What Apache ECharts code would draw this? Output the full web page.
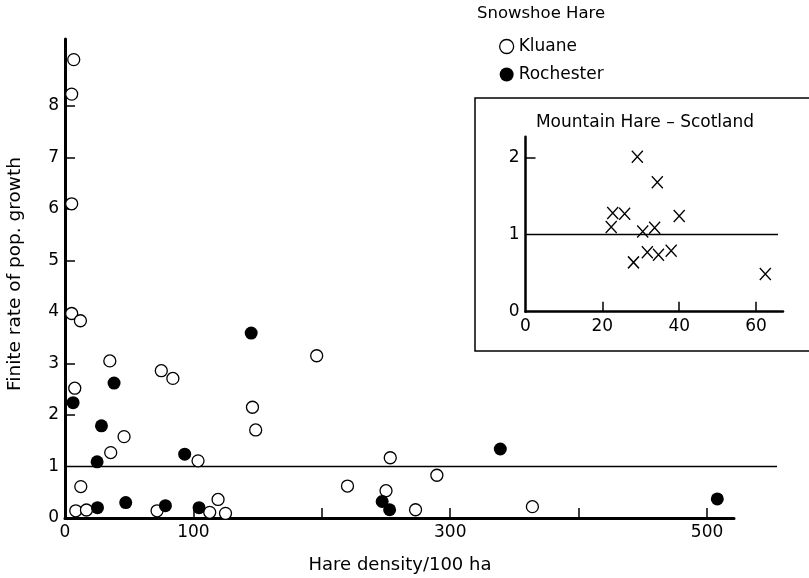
<!DOCTYPE html>
<html>
<head>
<meta charset="utf-8">
<script src="https://cdn.jsdelivr.net/npm/echarts@6/dist/echarts.min.js"></script>
<style>
html, body { margin: 0; padding: 0; background: #fff; }
#chart { width: 809px; height: 578px; }
</style>
</head>
<body>
<div id="chart"></div>
<script>
// Snowshoe hare, density (per 100 ha) vs finite rate of growth
var kluane = [
    [6.8, 8.9], [5.2, 8.23], [5.2, 6.1], [5.2, 3.97], [12, 3.83], [34.9, 3.05],
    [75, 2.86], [84, 2.71], [7.6, 2.52], [46, 1.58], [35.6, 1.27], [103.6, 1.11],
    [146, 2.15], [148.5, 1.71], [196, 3.15], [12.3, 0.61], [8.4, 0.14], [16.7, 0.155],
    [71.7, 0.14], [119.2, 0.36], [112.7, 0.11], [125, 0.09], [220, 0.62], [250, 0.53],
    [253.3, 1.17], [289.6, 0.83], [273, 0.16], [364, 0.22]
];
var rochester = [
    [145, 3.59], [38.2, 2.62], [6.3, 2.24], [28.4, 1.79], [25, 1.09], [93.2, 1.24],
    [25.3, 0.2], [47.3, 0.3], [78.2, 0.24], [104.4, 0.2], [247, 0.32], [252.8, 0.16],
    [339, 1.34], [508, 0.37]
];
// Mountain hare, Scotland (inset)
var scotland = [
    [29.1, 2.01], [34.3, 1.68], [22.7, 1.28], [25.8, 1.27], [22.3, 1.1], [40, 1.24],
    [30.5, 1.04], [33.6, 1.09], [28.1, 0.64], [31.7, 0.77], [34.6, 0.74], [37.9, 0.79],
    [62.4, 0.49]
];
var mainXLabels = [0, 100, 300, 500];
var mainXTicks = [100, 200, 300, 400, 500];
var mainYLabels = [0, 1, 2, 3, 4, 5, 6, 7, 8];
var mainYTicks = [2, 3, 4, 5, 6, 7, 8];
var insetXLabels = [0, 20, 40, 60];
var insetXTicks = [20, 40, 60];
var insetYLabels = [0, 1, 2];
var insetYTicks = [2];
// lambda = 1 reference lines (the main one runs past the end of the x axis)
var mainRefLine = [[0, 1], [554, 1]];
var insetRefLine = [[0, 1], [65.7, 1]];

var FONT = 'DejaVu Sans';
var chart = echarts.init(document.getElementById('chart'));

function makeAxis(idx, max, labels, ticks, width) {
    return {
        type: 'value', gridIndex: idx, min: 0, max: max,
        splitLine: { show: false },
        axisLine: { lineStyle: { color: '#000', width: width } },
        axisTick: { inside: true, length: 10, customValues: ticks, lineStyle: { color: '#000', width: 1.5 } },
        axisLabel: { customValues: labels, color: '#000', fontFamily: FONT, fontSize: 17, margin: 6 }
    };
}
function hiddenAxis(idx, max) {
    return { type: 'value', gridIndex: idx, min: 0, max: max, show: false, splitLine: { show: false } };
}

var option = {
    backgroundColor: '#fff',
    animation: false,
    textStyle: { fontFamily: FONT, color: '#000' },
    grid: [
        { left: 65, top: 39, right: 75, bottom: 60 },
        { left: 525.5, top: 136.7, right: 26, bottom: 266.3 },
        { left: 65, top: 39, right: 32, bottom: 60 }
    ],
    xAxis: [
        makeAxis(0, 521, mainXLabels, mainXTicks, 3),
        makeAxis(1, 67, insetXLabels, insetXTicks, 2.5),
        hiddenAxis(2, 554)
    ],
    yAxis: [
        makeAxis(0, 9.3, mainYLabels, mainYTicks, 3),
        makeAxis(1, 2.27, insetYLabels, insetYTicks, 2.5),
        hiddenAxis(2, 9.3)
    ],
    legend: {
        orient: 'vertical', left: 494, top: 33, itemGap: 11,
        itemWidth: 14, itemHeight: 14,
        textStyle: { fontFamily: FONT, fontSize: 17, color: '#000' },
        data: [
            { name: 'Kluane', icon: 'circle', itemStyle: { color: '#fff', borderColor: '#000', borderWidth: 1.3 } },
            { name: 'Rochester', icon: 'circle' }
        ]
    },
    graphic: [
        { type: 'text', left: 477, top: 5, style: { text: 'Snowshoe Hare', font: '16.5px "DejaVu Sans"', fill: '#000' } },
        { type: 'rect', shape: { x: 475, y: 98, width: 345, height: 253 }, style: { fill: 'none', stroke: '#000', lineWidth: 1.5 }, z: 1 },
        { type: 'text', x: 645, y: 123, style: { text: 'Mountain Hare \u2013 Scotland', font: '17px "DejaVu Sans"', fill: '#000', align: 'center', verticalAlign: 'middle' } },
        { type: 'text', x: 400, y: 565, style: { text: 'Hare density/100 ha', font: '18px "DejaVu Sans"', fill: '#000', align: 'center', verticalAlign: 'middle' } },
        { type: 'text', x: 15, y: 274, rotation: Math.PI / 2, style: { text: 'Finite rate of pop. growth', font: '18.5px "DejaVu Sans"', fill: '#000', align: 'center', verticalAlign: 'middle' } }
    ],
    series: [
        {
            name: 'ref1', type: 'line', xAxisIndex: 2, yAxisIndex: 2, data: mainRefLine,
            symbol: 'none', lineStyle: { color: '#000', width: 1.5 }, z: 1, silent: true
        },
        {
            name: 'Kluane', type: 'scatter', xAxisIndex: 0, yAxisIndex: 0, data: kluane,
            symbol: 'circle', symbolSize: 12, clip: false,
            itemStyle: { color: '#fff', borderColor: '#000', borderWidth: 1.3, opacity: 1 }, z: 3
        },
        {
            name: 'Rochester', type: 'scatter', xAxisIndex: 0, yAxisIndex: 0, data: rochester,
            symbol: 'circle', symbolSize: 13, clip: false,
            itemStyle: { color: '#000', opacity: 1 }, z: 4
        },
        {
            name: 'ref2', type: 'line', xAxisIndex: 1, yAxisIndex: 1, data: insetRefLine,
            symbol: 'none', clip: false, lineStyle: { color: '#000', width: 1.5 }, z: 1, silent: true
        },
        {
            name: 'Mountain Hare', type: 'scatter', xAxisIndex: 1, yAxisIndex: 1, data: scotland,
            symbol: 'path://M0,0L10,12M10,0L0,12', symbolSize: [11, 12], clip: false,
            itemStyle: { color: 'none', borderColor: '#000', borderWidth: 1.4, opacity: 1 }, z: 3
        }
    ]
};
chart.setOption(option);
</script>
</body>
</html>
